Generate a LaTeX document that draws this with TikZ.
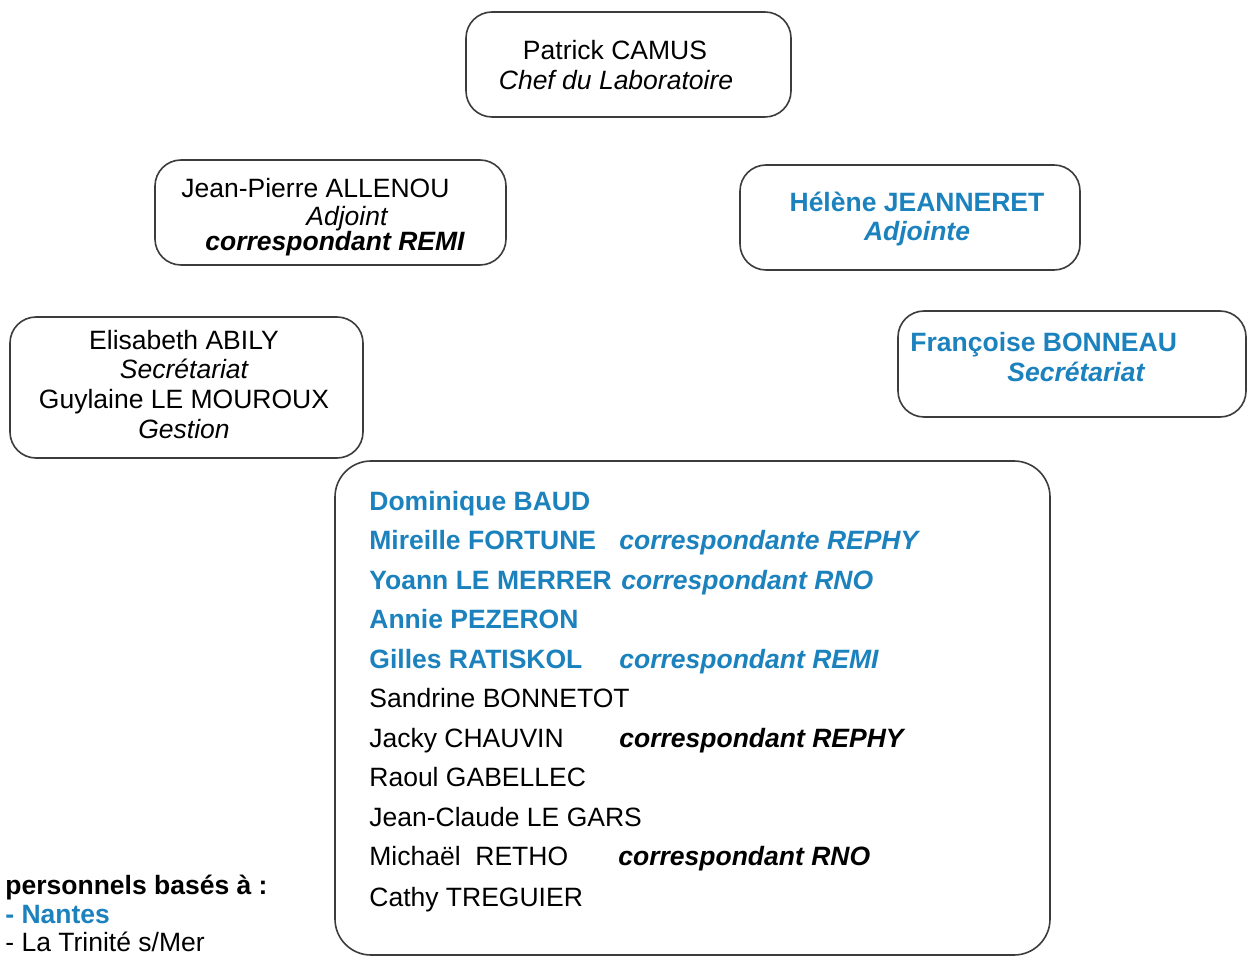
\documentclass[tikz,border=0pt]{standalone}
\usepackage{fontspec}
\setmainfont{Liberation Sans}
\definecolor{ifblue}{RGB}{28,130,190}
\definecolor{boxline}{RGB}{60,60,60}
\tikzset{
  box/.style={draw=boxline, line width=0.8pt, rounded corners=13pt, inner sep=0pt},
  bigbox/.style={draw=boxline, line width=0.8pt, rounded corners=18pt, inner sep=0pt},
  txt/.style={inner sep=0pt, font=\fontsize{13.25}{15}\selectfont},
  lt/.style={txt, anchor=base west},
  ct/.style={txt, anchor=base},
  bl/.style={text=ifblue, font=\fontsize{13.25}{15}\selectfont\bfseries},
  bli/.style={text=ifblue, font=\fontsize{13.25}{15}\selectfont\bfseries\itshape},
  it/.style={font=\fontsize{13.25}{15}\selectfont\itshape},
  bi/.style={font=\fontsize{13.25}{15}\selectfont\bfseries\itshape},
}
\begin{document}
\begin{tikzpicture}[x=0.5pt,y=-0.5pt]
\useasboundingbox[fill=white] (0,0) rectangle (1252,956);
% boxes
\node[box, minimum width=162.5pt, minimum height=52.5pt] (chef) at (628.5,64.5) {};
\node[box, minimum width=175.5pt, minimum height=52.5pt] (adj1) at (330.5,212.5) {};
\node[box, minimum width=170pt, minimum height=52.5pt] (adj2) at (910,217.5) {};
\node[box, minimum width=176.5pt, minimum height=70.5pt] (sec1) at (186.5,387.5) {};
\node[box, minimum width=174pt, minimum height=53pt] (sec2) at (1072,364) {};
\node[bigbox, minimum width=357.5pt, minimum height=247pt] (staff) at (692.5,708) {};
% chef
\node[ct] (t1a) at (615,59.5) {Patrick CAMUS};
\node[ct, it] (t1b) at (616,90) {Chef du Laboratoire};
% adjoint 1
\node[lt] (t2a) at (181,198) {Jean-Pierre ALLENOU};
\node[lt, it] (t2b) at (306,226) {Adjoint};
\node[lt, bi] (t2c) at (205,251) {correspondant REMI};
% adjoint 2
\node[ct, bl] (t3a) at (917,211.5) {Hélène JEANNERET};
\node[ct, bli] (t3b) at (917,241) {Adjointe};
% secretariat 1
\node[ct] (t4a) at (184,349.5) {Elisabeth ABILY};
\node[ct, it] (t4b) at (184,379) {Secrétariat};
\node[ct] (t4c) at (184,409) {Guylaine LE MOUROUX};
\node[ct, it] (t4d) at (184,438.5) {Gestion};
% secretariat 2
\node[lt, bl] (t5a) at (910,352) {Françoise BONNEAU};
\node[lt, bli] (t5b) at (1007,381.5) {Secrétariat};
% staff
\node[lt, bl] (s1) at (369,510) {Dominique BAUD};
\node[lt, bl] (s2) at (369,549.5) {Mireille FORTUNE};
\node[lt, bli] (s2c) at (619,549.5) {correspondante REPHY};
\node[lt, bl] (s3) at (369,589) {Yoann LE MERRER};
\node[lt, bli] (s3c) at (621,589) {correspondant RNO};
\node[lt, bl] (s4) at (369,628.5) {Annie PEZERON};
\node[lt, bl] (s5) at (369,668) {Gilles RATISKOL};
\node[lt, bli] (s5c) at (619,668) {correspondant REMI};
\node[lt] (s6) at (369,707.5) {Sandrine BONNETOT};
\node[lt] (s7) at (369,747) {Jacky CHAUVIN};
\node[lt, bi] (s7c) at (619,747) {correspondant REPHY};
\node[lt] (s8) at (369,786.5) {Raoul GABELLEC};
\node[lt] (s9) at (369,826) {Jean-Claude LE GARS};
\node[lt] (s10) at (369,865.5) {Michaël\ \ RETHO};
\node[lt, bi] (s10c) at (618,865.5) {correspondant RNO};
\node[lt] (s11) at (369,906) {Cathy TREGUIER};
% legend
\node[lt, font=\fontsize{13.25}{15}\selectfont\bfseries] (l1) at (5,894) {personnels basés à :};
\node[lt, bl] (l2) at (5,923) {- Nantes};
\node[lt] (l3) at (5,951) {- La Trinité s/Mer};
\end{tikzpicture}
\end{document}
